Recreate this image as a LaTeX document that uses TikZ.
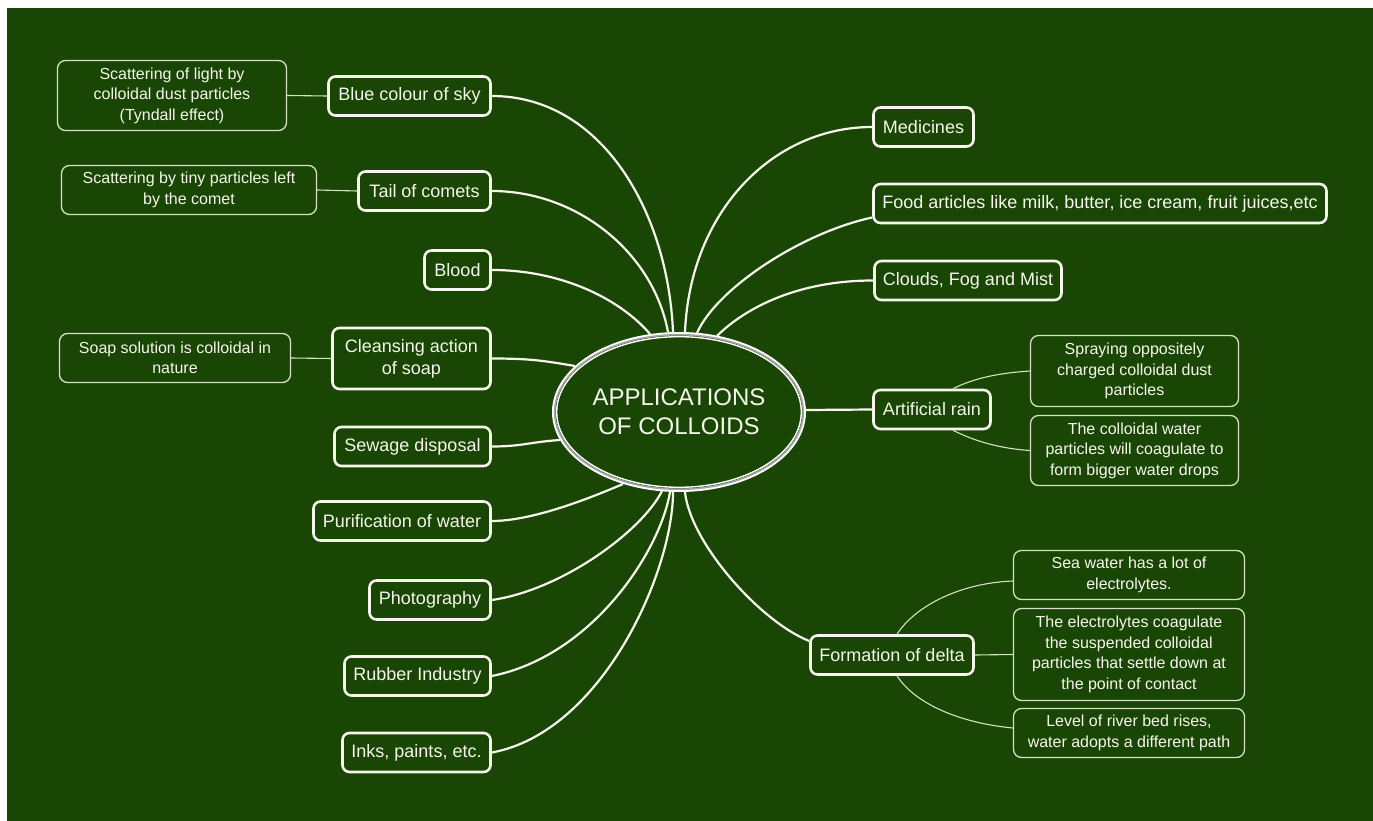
\documentclass[tikz,border=0pt]{standalone}
\usepackage{fontspec}
\setmainfont{Liberation Sans}
\usetikzlibrary{shapes.geometric,calc}
\definecolor{bg}{RGB}{26,70,5}
\definecolor{ink}{RGB}{246,246,236}
\definecolor{thin}{RGB}{214,224,198}
\begin{document}
\begin{tikzpicture}[x=1pt,y=-1pt,
  main/.style={draw=ink, line width=2.6pt, rounded corners=7pt, fill=bg, text=ink,
    font=\fontsize{18}{22}\selectfont, align=center, inner sep=0pt, minimum height=39pt},
  det/.style={draw=thin, line width=1.3pt, rounded corners=8pt, fill=bg, text=ink,
    font=\fontsize{16}{20.5}\selectfont, align=center, inner sep=0pt},
  conn/.style={draw=ink, line width=2.2pt},
  tconn/.style={draw=thin, line width=1.1pt}]
\fill[white] (0,0) rectangle (1373,821);
\fill[bg] (7,8) rectangle (1373,821);
\useasboundingbox (0,0) rectangle (1373,821);

% hub contact points
\coordinate (t1) at (650,334);
\coordinate (t2) at (668,332);
\coordinate (t3) at (673,332);
\coordinate (t4) at (685,332);
\coordinate (t5) at (697,333);
\coordinate (t6) at (717,336);
\coordinate (l1) at (575,366);
\coordinate (l2) at (560,440);
\coordinate (b1) at (623,484);
\coordinate (b2) at (662,491);
\coordinate (b3) at (670,492);
\coordinate (b4) at (673,492);
\coordinate (b5) at (685,492);
\coordinate (r1) at (805,410);

% left main nodes
\node[main, minimum width=162] (sky) at (409.5,96) {Blue colour of sky};
\node[main, minimum width=132] (tail) at (424.5,191) {Tail of comets};
\node[main, minimum width=66] (blood) at (457.5,270) {Blood};
\node[main, minimum width=158, minimum height=61] (clean) at (411.5,358.5) {Cleansing action\\of soap};
\node[main, minimum width=156] (sew) at (412.5,446.5) {Sewage disposal};
\node[main, minimum width=177] (pur) at (402,521) {Purification of water};
\node[main, minimum width=121] (photo) at (430,600) {Photography};
\node[main, minimum width=146] (rub) at (417.5,676) {Rubber Industry};
\node[main, minimum width=148] (inks) at (416.5,752.5) {Inks, paints, etc.};

% right main nodes
\node[main, minimum width=100] (med) at (923.5,127) {Medicines};
\node[main, minimum width=453] (food) at (1100,203.5) {Food articles like milk, butter, ice cream, fruit juices,etc};
\node[main, minimum width=187] (clouds) at (968,280.5) {Clouds, Fog and Mist};
\node[main, minimum width=117] (rain) at (932,409.5) {Artificial rain};
\node[main, minimum width=163] (delta) at (892,655) {Formation of delta};

% detail nodes
\node[det, minimum width=229, minimum height=70] (tyn) at (172,95.5) {Scattering of light by\\colloidal dust particles\\(Tyndall effect)};
\node[det, minimum width=255, minimum height=49] (comdet) at (189,190) {Scattering by tiny particles left\\by the comet};
\node[det, minimum width=231, minimum height=49] (soapdet) at (175,358) {Soap solution is colloidal in\\nature};
\node[det, minimum width=208, minimum height=71] (spray) at (1134.5,371) {Spraying oppositely\\charged colloidal dust\\particles};
\node[det, minimum width=208, minimum height=70] (water) at (1134.5,450.5) {The colloidal water\\particles will coagulate to\\form bigger water drops};
\node[det, minimum width=231, minimum height=49] (sea) at (1129,575) {Sea water has a lot of\\electrolytes.};
\node[det, minimum width=231, minimum height=92] (elec) at (1129,654.5) {The electrolytes coagulate\\the suspended colloidal\\particles that settle down at\\the point of contact};
\node[det, minimum width=231, minimum height=49] (level) at (1129,733) {Level of river bed rises,\\water adopts a different path};

% main connectors
\draw[conn] (blood.east) .. controls +(70,0) and +(-30,-35) .. (t1);
\draw[conn] (tail.east) .. controls +(85,0) and +(-15,-80) .. (t2);
\draw[conn] (sky.east) .. controls +(110,0) and +(-5,-120) .. (t3);
\draw[conn] (med.west) .. controls +(-100,0) and +(5,-120) .. (t4);
\draw[conn] ($(food.west)+(0,14)$) .. controls +(-70,15) and +(20,-45) .. (t5);
\draw[conn] (clouds.west) .. controls +(-80,0) and +(25,-25) .. (t6);
\draw[conn] (clean.east) .. controls +(40,0) and +(-30,-5) .. (l1);
\draw[conn] (sew.east) .. controls +(30,0) and +(-30,2) .. (l2);
\draw[conn] (pur.east) .. controls +(40,0) and +(-35,15) .. (b1);
\draw[conn] (photo.east) .. controls +(70,-10) and +(-20,40) .. (b2);
\draw[conn] (rub.east) .. controls +(100,-20) and +(-10,60) .. (b3);
\draw[conn] (inks.east) .. controls +(110,-20) and +(0,80) .. (b4);
\draw[conn] ($(delta.west)+(0,-14)$) .. controls +(-50,-20) and +(5,50) .. (b5);
\draw[conn] (r1) -- (rain.west);

% detail connectors
\draw[tconn] (tyn.east) -- (sky.west);
\draw[tconn] (comdet.east) -- (tail.west);
\draw[tconn] (soapdet.east) -- (clean.west);
\draw[tconn] ($(rain.north)+(21,0)$) .. controls +(22,-11) and +(-30,2) .. (spray.west);
\draw[tconn] ($(rain.south)+(21,0)$) .. controls +(22,11) and +(-30,-2) .. (water.west);
\draw[tconn] ($(delta.north)+(5,0)$) .. controls +(18,-28) and +(-53,2) .. ($(sea.west)+(0,6)$);
\draw[tconn] (delta.east) -- (elec.west);
\draw[tconn] ($(delta.south)+(5,0)$) .. controls +(18,28) and +(-53,-5) .. ($(level.west)+(0,-5)$);

% hub
\node[ellipse, draw=white, line width=3pt, fill=bg, minimum width=251, minimum height=157,
  inner sep=0pt, text=ink, align=center, font=\fontsize{24}{29}\selectfont] (hub) at (679,412)
  {APPLICATIONS\\OF COLLOIDS};
\draw[gray!70, line width=1.6pt] (hub.center) ellipse [x radius=124.3, y radius=77.3];
\draw[white, line width=1.4pt] (hub.center) ellipse [x radius=122.3, y radius=75.3];
\end{tikzpicture}
\end{document}
